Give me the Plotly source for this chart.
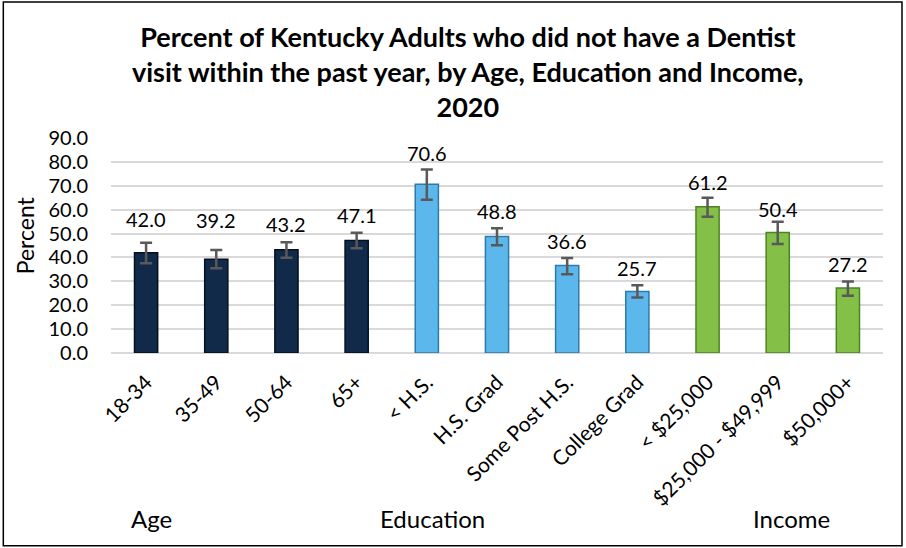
import plotly.graph_objects as go

categories = ["18-34", "35-49", "50-64", "65+", "< H.S.", "H.S. Grad", "Some Post H.S.",
              "College Grad", "< $25,000", "$25,000 - $49,999", "$50,000+"]
values = [42.0, 39.2, 43.2, 47.1, 70.6, 48.8, 36.6, 25.7, 61.2, 50.4, 27.2]
err_plus = [4.2, 3.9, 3.2, 3.2, 6.2, 3.4, 3.2, 2.7, 3.8, 4.5, 2.7]
err_minus = [4.4, 3.7, 3.3, 3.2, 6.5, 3.7, 3.6, 2.5, 4.2, 4.8, 3.2]
groups = ["Age", "Education", "Income"]
group_of = ["Age"] * 4 + ["Education"] * 4 + ["Income"] * 3

# styling (not data)
group_colors = {"Age": "#112a4a", "Education": "#5cb8ec", "Income": "#84bf48"}
group_edges = {"Age": "#04101f", "Education": "#2e7aa8", "Income": "#4c8420"}
label_shift_px = [34, 39, 26, 25, 31, 25, 25, 24, 25, 24, 24]
group_x = {"Age": 0.052, "Education": 0.416, "Income": 0.881}

FONT = "Lato"

fig = go.Figure()
fig.add_trace(go.Bar(
    x=categories, y=values,
    marker=dict(color=[group_colors[g] for g in group_of],
                line=dict(color=[group_edges[g] for g in group_of], width=1.5)),
    width=0.33,
    error_y=dict(type="data", symmetric=False, array=err_plus, arrayminus=err_minus,
                 color="#595959", thickness=2.5, width=6),
    hoverinfo="x+y",
))

for c, v, s in zip(categories, values, label_shift_px):
    fig.add_annotation(x=c, y=v, text=f"{v:.1f}", showarrow=False, yshift=s,
                       font=dict(family=FONT, size=20, color="#000000"))

for g in groups:
    fig.add_annotation(x=group_x[g], xref="paper", xanchor="center", y=-0.772, yref="paper",
                       yanchor="middle", text=g, showarrow=False,
                       font=dict(family=FONT, size=24, color="#000000"))

fig.add_annotation(x=0.4624, xref="paper", xanchor="center", y=1.31, yref="paper",
                   yanchor="middle",
                   text="<b>Percent of Kentucky Adults who did not have a Dentist<br>"
                        "visit within the past year, by Age, Education and Income,<br>2020</b>",
                   showarrow=False, font=dict(family=FONT, size=27, color="#000000"))

fig.add_annotation(x=-0.111, xref="paper", xanchor="center", y=0.549, yref="paper",
                   yanchor="middle", text="Percent", textangle=-90, showarrow=False,
                   font=dict(family=FONT, size=23, color="#000000"))

fig.update_layout(
    width=906, height=548,
    margin=dict(l=111, r=23, t=138, b=195, autoexpand=False),
    paper_bgcolor="white", plot_bgcolor="white",
    showlegend=False,
    font=dict(family=FONT, color="#000000"),
    shapes=[dict(type="rect", xref="paper", yref="paper", x0=-0.1395, x1=1.0246,
                 y0=-0.896, y1=1.633, line=dict(color="#000000", width=1.5))],
)
fig.update_yaxes(range=[0, 90], dtick=10, tickformat=".1f", showgrid=True, automargin=False,
                 gridcolor="#d9d9d9", gridwidth=1.5, zeroline=True, zerolinecolor="#d9d9d9",
                 zerolinewidth=1.5, ticklabelstandoff=22,
                 tickfont=dict(family=FONT, size=20, color="#000000"))
fig.update_xaxes(tickangle=-45, tickfont=dict(family=FONT, size=21, color="#000000"),
                 showline=False, ticklabelstandoff=12, automargin=False)

fig.write_html("out.html", config={"displayModeBar": False},
               post_script="document.body.style.margin='0';")
